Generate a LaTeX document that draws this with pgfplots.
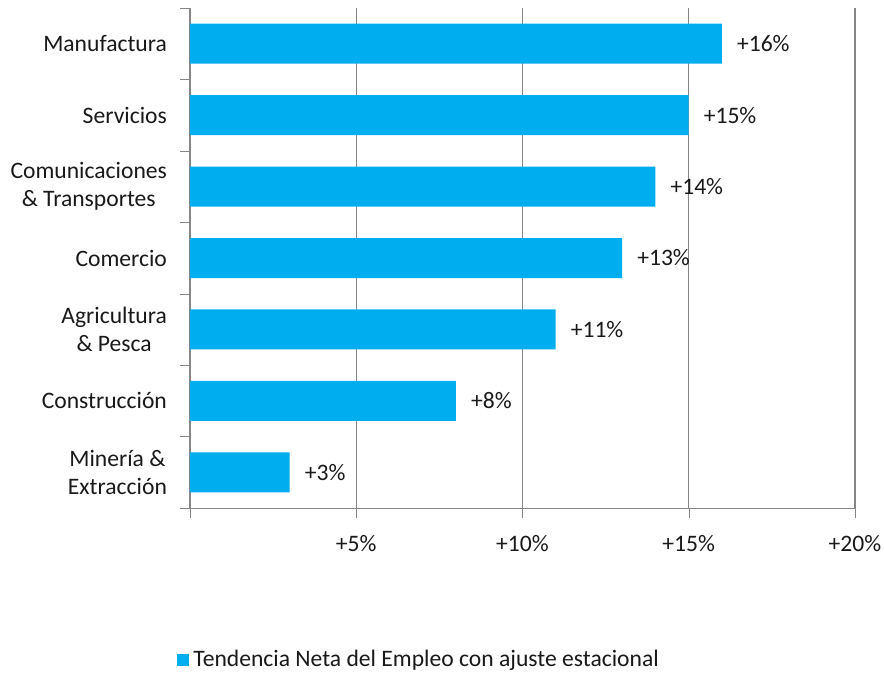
\documentclass[border=0pt]{standalone}
\usepackage{pgfplots}
\pgfplotsset{compat=1.18}
\usepackage{fontspec}
\setmainfont{Carlito}
\definecolor{barblue}{RGB}{0,174,239}
\definecolor{txt}{RGB}{25,25,25}
\definecolor{axgray}{RGB}{134,134,134}
\begin{document}
\begin{tikzpicture}
\begin{axis}[
    name=ax,
    width=332.5pt, height=250pt, scale only axis,
    xbar, bar width=0.56,
    xmin=0, xmax=20,
    ymin=-0.5, ymax=6.5, y dir=reverse,
    axis x line*=bottom, axis y line*=left,
    axis line style={axgray, -},
    /pgf/number format/assume math mode=true,
    xtick={0,5,10,15,20},
    xticklabels={,+5\%,+10\%,+15\%,+20\%},
    xtick pos=bottom, xtick align=outside,
    major tick length=5pt,
    xmajorgrids, grid style={axgray, line width=0.6pt},
    x tick style={axgray},
    ytick={0,1,2,3,4,5,6},
    yticklabels={Manufactura, Servicios, Comunicaciones\\\& Transportes, Comercio, Agricultura\\\& Pesca, Construcción, Minería \&\\Extracción},
    minor ytick={-0.5,0.5,...,6.5},
    ytick align=outside, ytick pos=left,
    major y tick style={draw=none},
    minor y tick style={axgray},
    minor tick length=5pt,
    yticklabel style={align=center, font=\fontsize{11.8}{14}\selectfont, text=txt, xshift=-3pt},
    xticklabel style={font=\fontsize{11.8}{14}\selectfont, text=txt, yshift=-5pt},
    nodes near coords={+\pgfmathprintnumber{\pgfplotspointmeta}\%},
    nodes near coords style={font=\fontsize{11.8}{14}\selectfont, text=txt, anchor=west, xshift=4pt},
    point meta=x,
    legend style={draw=none, at={(0.346,-0.304)}, anchor=center,
        font=\fontsize{11.8}{14}\selectfont, text=txt},
    legend image code/.code={\fill[barblue] (0pt,-3pt) rectangle (6pt,3pt);},
]
\addplot[fill=barblue, draw=none] coordinates {
(16,0) (15,1) (14,2) (13,3) (11,4) (8,5) (3,6)
};
\addlegendentry{Tendencia Neta del Empleo con ajuste estacional}
\end{axis}
\pgfresetboundingbox
\path[use as bounding box] ([xshift=-95pt, yshift=-82.5pt]ax.south west) rectangle ([xshift=14.5pt, yshift=4pt]ax.north east);
\end{tikzpicture}
\end{document}
